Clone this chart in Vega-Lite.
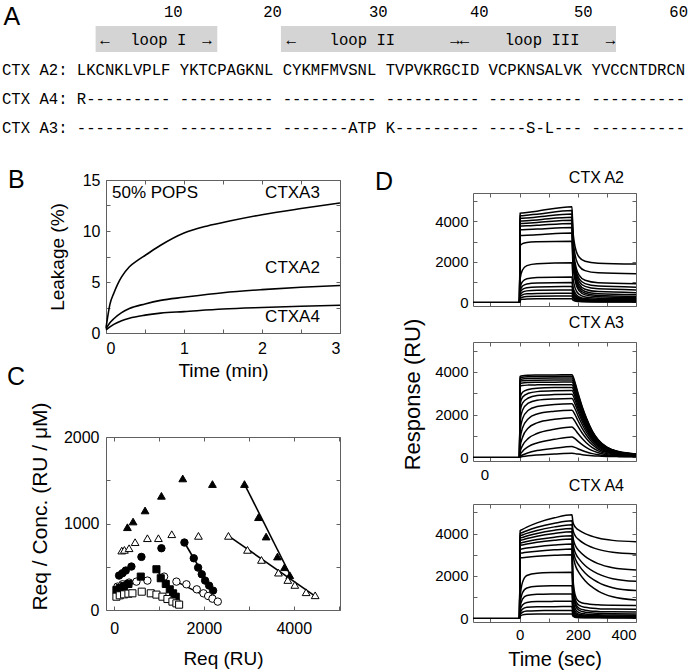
{
"$schema":"https://vega.github.io/schema/vega-lite/v6.json",
"background":"white",
"padding":{"left":2,"top":0,"right":0,"bottom":0},
"bounds":"flush",
"spacing":0,
"config":{
 "view":{"stroke":"#606060","strokeWidth":1},
 "axis":{"domain":false,"grid":false,"ticks":true,"tickSize":-4,"tickColor":"#606060","tickWidth":1,"labelFont":"Liberation Sans","labelFontSize":15,"labelColor":"#000000","titleFont":"Liberation Sans","titleFontSize":19,"titleFontWeight":"normal","titleColor":"#000000"}
},
"datasets":{
 "loops":[{"c1":10,"c2":23},{"c1":29.8,"c2":65.6}],
 "atext":[{"col":18.3,"row":0,"t":"10"},{"col":28.9,"row":0,"t":"20"},{"col":40.2,"row":0,"t":"30"},{"col":51.0,"row":0,"t":"40"},{"col":62.1,"row":0,"t":"50"},{"col":72.3,"row":0,"t":"60"},
  {"col":11.0,"row":0.95,"t":"←"},{"col":16.7,"row":0.95,"t":"loop I"},{"col":21.9,"row":0.95,"t":"→"},{"col":30.9,"row":0.95,"t":"←"},{"col":38.5,"row":0.95,"t":"loop II"},{"col":48.9,"row":0.95,"t":"→←"},{"col":57.7,"row":0.95,"t":"loop III"},{"col":65.0,"row":0.95,"t":"→"}],
 "seq":[{"col":0,"row":2,"t":"CTX A2: LKCNKLVPLF YKTCPAGKNL CYKMFMVSNL TVPVKRGCID VCPKNSALVK YVCCNTDRCN"},
  {"col":0,"row":3,"t":"CTX A4: R--------- ---------- ---------- ---------- ---------- ----------"},
  {"col":0,"row":4,"t":"CTX A3: ---------- ---------- -------ATP K--------- ----S-L--- ----------"}],
 "leak":[
  {"s":"A3","t":0,"v":0.5},{"s":"A3","t":0.02,"v":1.5},{"s":"A3","t":0.05,"v":2.8},{"s":"A3","t":0.1,"v":3.9},{"s":"A3","t":0.15,"v":4.8},{"s":"A3","t":0.2,"v":5.5},{"s":"A3","t":0.3,"v":6.5},{"s":"A3","t":0.4,"v":7.1},{"s":"A3","t":0.5,"v":7.6},{"s":"A3","t":0.7,"v":8.6},{"s":"A3","t":1.0,"v":9.8},{"s":"A3","t":1.3,"v":10.5},{"s":"A3","t":1.6,"v":11.0},{"s":"A3","t":2.0,"v":11.6},{"s":"A3","t":2.5,"v":12.2},{"s":"A3","t":3.0,"v":12.75},
  {"s":"A2","t":0,"v":0.4},{"s":"A2","t":0.05,"v":1.0},{"s":"A2","t":0.1,"v":1.4},{"s":"A2","t":0.2,"v":2.0},{"s":"A2","t":0.3,"v":2.4},{"s":"A2","t":0.5,"v":2.85},{"s":"A2","t":0.7,"v":3.2},{"s":"A2","t":1.0,"v":3.5},{"s":"A2","t":1.5,"v":3.95},{"s":"A2","t":2.0,"v":4.25},{"s":"A2","t":2.5,"v":4.48},{"s":"A2","t":3.0,"v":4.65},
  {"s":"A4","t":0,"v":0.3},{"s":"A4","t":0.05,"v":0.6},{"s":"A4","t":0.1,"v":0.85},{"s":"A4","t":0.2,"v":1.2},{"s":"A4","t":0.3,"v":1.45},{"s":"A4","t":0.5,"v":1.75},{"s":"A4","t":0.7,"v":1.95},{"s":"A4","t":1.0,"v":2.1},{"s":"A4","t":1.5,"v":2.35},{"s":"A4","t":2.0,"v":2.5},{"s":"A4","t":2.5,"v":2.62},{"s":"A4","t":3.0,"v":2.72}],
 "leaklab":[{"t":0.077,"v":13.73,"label":"50% POPS"},{"t":2.04,"v":13.73,"label":"CTXA3"},{"t":2.04,"v":6.37,"label":"CTXA2"},{"t":2.04,"v":1.57,"label":"CTXA4"}],
 "scat":[
  {"m":"tri","f":"y","x":297,"y":957},{"m":"tri","f":"y","x":423,"y":1023},{"m":"tri","f":"y","x":690,"y":1151},{"m":"tri","f":"y","x":1054,"y":1320},{"m":"tri","f":"y","x":1529,"y":1521},{"m":"tri","f":"y","x":2190,"y":1456},{"m":"tri","f":"y","x":2903,"y":1456},{"m":"tri","f":"y","x":3215,"y":1073},{"m":"tri","f":"y","x":3385,"y":849},{"m":"tri","f":"y","x":3638,"y":618},{"m":"tri","f":"y","x":3794,"y":494},{"m":"tri","f":"y","x":3912,"y":402},
  {"m":"tri","f":"n","x":171,"y":687},{"m":"tri","f":"n","x":230,"y":695},{"m":"tri","f":"n","x":334,"y":714},{"m":"tri","f":"n","x":468,"y":784},{"m":"tri","f":"n","x":742,"y":830},{"m":"tri","f":"n","x":987,"y":830},{"m":"tri","f":"n","x":1284,"y":876},{"m":"tri","f":"n","x":1878,"y":857},{"m":"tri","f":"n","x":2546,"y":857},{"m":"tri","f":"n","x":2970,"y":695},{"m":"tri","f":"n","x":3281,"y":579},{"m":"tri","f":"n","x":3660,"y":432},{"m":"tri","f":"n","x":3868,"y":347},{"m":"tri","f":"n","x":4024,"y":290},{"m":"tri","f":"n","x":4276,"y":205},{"m":"tri","f":"n","x":4477,"y":170},
  {"m":"circ","f":"y","x":111,"y":398},{"m":"circ","f":"y","x":186,"y":425},{"m":"circ","f":"y","x":260,"y":456},{"m":"circ","f":"y","x":386,"y":502},{"m":"circ","f":"y","x":609,"y":614},{"m":"circ","f":"y","x":1054,"y":714},{"m":"circ","f":"y","x":1566,"y":780},{"m":"circ","f":"y","x":1774,"y":598},{"m":"circ","f":"y","x":1871,"y":490},{"m":"circ","f":"y","x":1952,"y":413},{"m":"circ","f":"y","x":2027,"y":340},{"m":"circ","f":"y","x":2116,"y":282},{"m":"circ","f":"y","x":2205,"y":224},
  {"m":"circ","f":"n","x":74,"y":270},{"m":"circ","f":"n","x":186,"y":297},{"m":"circ","f":"n","x":334,"y":317},{"m":"circ","f":"n","x":497,"y":328},{"m":"circ","f":"n","x":742,"y":340},{"m":"circ","f":"n","x":1114,"y":386},{"m":"circ","f":"n","x":1388,"y":328},{"m":"circ","f":"n","x":1611,"y":297},{"m":"circ","f":"n","x":1841,"y":239},{"m":"circ","f":"n","x":1990,"y":193},{"m":"circ","f":"n","x":2094,"y":162},{"m":"circ","f":"n","x":2190,"y":131},{"m":"circ","f":"n","x":2309,"y":97},
  {"m":"sq","f":"y","x":52,"y":232},{"m":"sq","f":"y","x":126,"y":255},{"m":"sq","f":"y","x":223,"y":278},{"m":"sq","f":"y","x":319,"y":301},{"m":"sq","f":"y","x":594,"y":386},{"m":"sq","f":"y","x":943,"y":471},{"m":"sq","f":"y","x":1039,"y":367},{"m":"sq","f":"y","x":1151,"y":301},{"m":"sq","f":"y","x":1240,"y":239},{"m":"sq","f":"y","x":1314,"y":193},{"m":"sq","f":"y","x":1373,"y":154},
  {"m":"sq","f":"n","x":52,"y":154},{"m":"sq","f":"n","x":126,"y":170},{"m":"sq","f":"n","x":223,"y":181},{"m":"sq","f":"n","x":319,"y":189},{"m":"sq","f":"n","x":408,"y":193},{"m":"sq","f":"n","x":616,"y":212},{"m":"sq","f":"n","x":817,"y":193},{"m":"sq","f":"n","x":943,"y":178},{"m":"sq","f":"n","x":1076,"y":154},{"m":"sq","f":"n","x":1188,"y":127},{"m":"sq","f":"n","x":1299,"y":97},{"m":"sq","f":"n","x":1388,"y":77},{"m":"sq","f":"n","x":1448,"y":62}],
 "fits":[{"s":"tri","x":2903,"y":1456},{"s":"tri","x":3957,"y":367},{"s":"otri","x":2546,"y":857},{"s":"otri","x":4492,"y":154},{"s":"circ","x":1566,"y":780},{"s":"circ","x":2212,"y":212},{"s":"ocirc","x":1388,"y":328},{"s":"ocirc","x":2324,"y":85},{"s":"sq","x":943,"y":471},{"s":"sq","x":1396,"y":135},{"s":"osq","x":817,"y":193},{"s":"osq","x":1448,"y":58}],
 "d1":[
  {"c":0,"t":-160,"r":0},{"c":0,"t":0,"r":0},
  {"c":1,"t":0,"r":0},{"c":1,"t":2,"r":4400},{"c":1,"t":10,"r":4414},{"c":1,"t":25,"r":4441},{"c":1,"t":60,"r":4504},{"c":1,"t":180,"r":4720},{"c":1,"t":183,"r":3645},{"c":1,"t":188,"r":2965},{"c":1,"t":195,"r":2513},{"c":1,"t":205,"r":2230},{"c":1,"t":225,"r":2032},{"c":1,"t":270,"r":1932},{"c":1,"t":400,"r":1890},
  {"c":2,"t":0,"r":0},{"c":2,"t":2,"r":4270},{"c":2,"t":10,"r":4282},{"c":2,"t":25,"r":4304},{"c":2,"t":60,"r":4355},{"c":2,"t":180,"r":4530},{"c":2,"t":183,"r":3344},{"c":2,"t":188,"r":2596},{"c":2,"t":195,"r":2096},{"c":2,"t":205,"r":1784},{"c":2,"t":225,"r":1566},{"c":2,"t":270,"r":1457},{"c":2,"t":400,"r":1410},
  {"c":3,"t":0,"r":0},{"c":3,"t":2,"r":4140},{"c":3,"t":10,"r":4150},{"c":3,"t":25,"r":4168},{"c":3,"t":60,"r":4212},{"c":3,"t":180,"r":4360},{"c":3,"t":183,"r":3053},{"c":3,"t":188,"r":2227},{"c":3,"t":195,"r":1677},{"c":3,"t":205,"r":1333},{"c":3,"t":225,"r":1092},{"c":3,"t":270,"r":972},{"c":3,"t":400,"r":920},
  {"c":4,"t":0,"r":0},{"c":4,"t":2,"r":4010},{"c":4,"t":10,"r":4019},{"c":4,"t":25,"r":4035},{"c":4,"t":60,"r":4072},{"c":4,"t":180,"r":4200},{"c":4,"t":183,"r":2889},{"c":4,"t":188,"r":2061},{"c":4,"t":195,"r":1509},{"c":4,"t":205,"r":1164},{"c":4,"t":225,"r":923},{"c":4,"t":270,"r":802},{"c":4,"t":400,"r":750},
  {"c":5,"t":0,"r":0},{"c":5,"t":2,"r":3890},{"c":5,"t":10,"r":3898},{"c":5,"t":25,"r":3912},{"c":5,"t":60,"r":3945},{"c":5,"t":180,"r":4060},{"c":5,"t":183,"r":2751},{"c":5,"t":188,"r":1924},{"c":5,"t":195,"r":1373},{"c":5,"t":205,"r":1028},{"c":5,"t":225,"r":787},{"c":5,"t":270,"r":667},{"c":5,"t":400,"r":615},
  {"c":6,"t":0,"r":0},{"c":6,"t":2,"r":3760},{"c":6,"t":10,"r":3766},{"c":6,"t":25,"r":3778},{"c":6,"t":60,"r":3806},{"c":6,"t":180,"r":3900},{"c":6,"t":183,"r":2600},{"c":6,"t":188,"r":1780},{"c":6,"t":195,"r":1232},{"c":6,"t":205,"r":890},{"c":6,"t":225,"r":651},{"c":6,"t":270,"r":531},{"c":6,"t":400,"r":480},
  {"c":7,"t":0,"r":0},{"c":7,"t":2,"r":3580},{"c":7,"t":10,"r":3585},{"c":7,"t":25,"r":3595},{"c":7,"t":60,"r":3619},{"c":7,"t":180,"r":3700},{"c":7,"t":183,"r":2435},{"c":7,"t":188,"r":1635},{"c":7,"t":195,"r":1103},{"c":7,"t":205,"r":770},{"c":7,"t":225,"r":537},{"c":7,"t":270,"r":420},{"c":7,"t":400,"r":370},
  {"c":8,"t":0,"r":0},{"c":8,"t":2,"r":3300},{"c":8,"t":10,"r":3305},{"c":8,"t":25,"r":3315},{"c":8,"t":60,"r":3339},{"c":8,"t":180,"r":3420},{"c":8,"t":183,"r":2231},{"c":8,"t":188,"r":1479},{"c":8,"t":195,"r":979},{"c":8,"t":205,"r":666},{"c":8,"t":225,"r":447},{"c":8,"t":270,"r":337},{"c":8,"t":400,"r":290},
  {"c":9,"t":0,"r":0},{"c":9,"t":2,"r":2800},{"c":9,"t":10,"r":2900},{"c":9,"t":25,"r":2960},{"c":9,"t":60,"r":2990},{"c":9,"t":180,"r":3020},{"c":9,"t":183,"r":1960},{"c":9,"t":188,"r":1290},{"c":9,"t":195,"r":844},{"c":9,"t":205,"r":565},{"c":9,"t":225,"r":370},{"c":9,"t":270,"r":272},{"c":9,"t":400,"r":230},
  {"c":10,"t":0,"r":0},{"c":10,"t":2,"r":1170},{"c":10,"t":10,"r":1599},{"c":10,"t":25,"r":1814},{"c":10,"t":60,"r":1911},{"c":10,"t":180,"r":1950},{"c":10,"t":183,"r":1277},{"c":10,"t":188,"r":853},{"c":10,"t":195,"r":569},{"c":10,"t":205,"r":392},{"c":10,"t":225,"r":269},{"c":10,"t":270,"r":207},{"c":10,"t":400,"r":180},
  {"c":11,"t":0,"r":0},{"c":11,"t":2,"r":750},{"c":11,"t":10,"r":1025},{"c":11,"t":25,"r":1163},{"c":11,"t":60,"r":1225},{"c":11,"t":180,"r":1250},{"c":11,"t":183,"r":824},{"c":11,"t":188,"r":556},{"c":11,"t":195,"r":376},{"c":11,"t":205,"r":264},{"c":11,"t":225,"r":186},{"c":11,"t":270,"r":147},{"c":11,"t":400,"r":130},
  {"c":12,"t":0,"r":0},{"c":12,"t":2,"r":588},{"c":12,"t":10,"r":804},{"c":12,"t":25,"r":911},{"c":12,"t":60,"r":960},{"c":12,"t":180,"r":980},{"c":12,"t":183,"r":646},{"c":12,"t":188,"r":434},{"c":12,"t":195,"r":294},{"c":12,"t":205,"r":206},{"c":12,"t":225,"r":144},{"c":12,"t":270,"r":113},{"c":12,"t":400,"r":100},
  {"c":13,"t":0,"r":0},{"c":13,"t":2,"r":468},{"c":13,"t":10,"r":640},{"c":13,"t":25,"r":725},{"c":13,"t":60,"r":764},{"c":13,"t":180,"r":780},{"c":13,"t":183,"r":514},{"c":13,"t":188,"r":346},{"c":13,"t":195,"r":234},{"c":13,"t":205,"r":164},{"c":13,"t":225,"r":115},{"c":13,"t":270,"r":91},{"c":13,"t":400,"r":80},
  {"c":14,"t":0,"r":0},{"c":14,"t":2,"r":366},{"c":14,"t":10,"r":500},{"c":14,"t":25,"r":567},{"c":14,"t":60,"r":598},{"c":14,"t":180,"r":610},{"c":14,"t":183,"r":401},{"c":14,"t":188,"r":269},{"c":14,"t":195,"r":181},{"c":14,"t":205,"r":126},{"c":14,"t":225,"r":88},{"c":14,"t":270,"r":68},{"c":14,"t":400,"r":60},
  {"c":15,"t":0,"r":0},{"c":15,"t":2,"r":270},{"c":15,"t":10,"r":369},{"c":15,"t":25,"r":419},{"c":15,"t":60,"r":441},{"c":15,"t":180,"r":450},{"c":15,"t":183,"r":296},{"c":15,"t":188,"r":199},{"c":15,"t":195,"r":134},{"c":15,"t":205,"r":94},{"c":15,"t":225,"r":65},{"c":15,"t":270,"r":51},{"c":15,"t":400,"r":45},
  {"c":16,"t":0,"r":0},{"c":16,"t":2,"r":186},{"c":16,"t":10,"r":254},{"c":16,"t":25,"r":288},{"c":16,"t":60,"r":304},{"c":16,"t":180,"r":310},{"c":16,"t":183,"r":204},{"c":16,"t":188,"r":136},{"c":16,"t":195,"r":92},{"c":16,"t":205,"r":64},{"c":16,"t":225,"r":44},{"c":16,"t":270,"r":34},{"c":16,"t":400,"r":30},
  {"c":17,"t":0,"r":0},{"c":17,"t":2,"r":108},{"c":17,"t":10,"r":148},{"c":17,"t":25,"r":167},{"c":17,"t":60,"r":176},{"c":17,"t":180,"r":180},{"c":17,"t":183,"r":119},{"c":17,"t":188,"r":81},{"c":17,"t":195,"r":55},{"c":17,"t":205,"r":39},{"c":17,"t":225,"r":28},{"c":17,"t":270,"r":22},{"c":17,"t":400,"r":20}],
 "d2":[
  {"c":0,"t":-160,"r":0},{"c":0,"t":0,"r":0},
  {"c":1,"t":0,"r":0},{"c":1,"t":2,"r":3790},{"c":1,"t":10,"r":3820},{"c":1,"t":30,"r":3840},{"c":1,"t":60,"r":3850},{"c":1,"t":120,"r":3857},{"c":1,"t":180,"r":3860},{"c":1,"t":190,"r":3526},{"c":1,"t":200,"r":3044},{"c":1,"t":215,"r":2376},{"c":1,"t":230,"r":1820},{"c":1,"t":250,"r":1226},{"c":1,"t":270,"r":818},{"c":1,"t":300,"r":465},{"c":1,"t":340,"r":261},{"c":1,"t":400,"r":150},
  {"c":2,"t":0,"r":0},{"c":2,"t":2,"r":3720},{"c":2,"t":10,"r":3750},{"c":2,"t":30,"r":3770},{"c":2,"t":60,"r":3780},{"c":2,"t":120,"r":3787},{"c":2,"t":180,"r":3790},{"c":2,"t":190,"r":3462},{"c":2,"t":200,"r":2988},{"c":2,"t":215,"r":2332},{"c":2,"t":230,"r":1785},{"c":2,"t":250,"r":1202},{"c":2,"t":270,"r":801},{"c":2,"t":300,"r":455},{"c":2,"t":340,"r":254},{"c":2,"t":400,"r":145},
  {"c":3,"t":0,"r":0},{"c":3,"t":2,"r":3640},{"c":3,"t":10,"r":3670},{"c":3,"t":30,"r":3690},{"c":3,"t":60,"r":3700},{"c":3,"t":120,"r":3707},{"c":3,"t":180,"r":3710},{"c":3,"t":190,"r":3389},{"c":3,"t":200,"r":2925},{"c":3,"t":215,"r":2282},{"c":3,"t":230,"r":1747},{"c":3,"t":250,"r":1175},{"c":3,"t":270,"r":783},{"c":3,"t":300,"r":443},{"c":3,"t":340,"r":247},{"c":3,"t":400,"r":140},
  {"c":4,"t":0,"r":0},{"c":4,"t":2,"r":3550},{"c":4,"t":10,"r":3580},{"c":4,"t":30,"r":3600},{"c":4,"t":60,"r":3610},{"c":4,"t":120,"r":3617},{"c":4,"t":180,"r":3620},{"c":4,"t":190,"r":3306},{"c":4,"t":200,"r":2853},{"c":4,"t":215,"r":2226},{"c":4,"t":230,"r":1703},{"c":4,"t":250,"r":1146},{"c":4,"t":270,"r":762},{"c":4,"t":300,"r":431},{"c":4,"t":340,"r":240},{"c":4,"t":400,"r":135},
  {"c":5,"t":0,"r":0},{"c":5,"t":2,"r":3450},{"c":5,"t":10,"r":3480},{"c":5,"t":30,"r":3500},{"c":5,"t":60,"r":3510},{"c":5,"t":120,"r":3517},{"c":5,"t":180,"r":3520},{"c":5,"t":190,"r":3215},{"c":5,"t":200,"r":2774},{"c":5,"t":215,"r":2164},{"c":5,"t":230,"r":1656},{"c":5,"t":250,"r":1113},{"c":5,"t":270,"r":740},{"c":5,"t":300,"r":418},{"c":5,"t":340,"r":232},{"c":5,"t":400,"r":130},
  {"c":6,"t":0,"r":0},{"c":6,"t":2,"r":3330},{"c":6,"t":10,"r":3360},{"c":6,"t":30,"r":3380},{"c":6,"t":60,"r":3390},{"c":6,"t":120,"r":3397},{"c":6,"t":180,"r":3400},{"c":6,"t":190,"r":3105},{"c":6,"t":200,"r":2678},{"c":6,"t":215,"r":2088},{"c":6,"t":230,"r":1596},{"c":6,"t":250,"r":1071},{"c":6,"t":270,"r":710},{"c":6,"t":300,"r":399},{"c":6,"t":340,"r":218},{"c":6,"t":400,"r":120},
  {"c":7,"t":0,"r":0},{"c":7,"t":2,"r":2780},{"c":7,"t":10,"r":3041},{"c":7,"t":30,"r":3172},{"c":7,"t":60,"r":3237},{"c":7,"t":120,"r":3265},{"c":7,"t":180,"r":3270},{"c":7,"t":190,"r":2986},{"c":7,"t":200,"r":2575},{"c":7,"t":215,"r":2006},{"c":7,"t":230,"r":1532},{"c":7,"t":250,"r":1026},{"c":7,"t":270,"r":679},{"c":7,"t":300,"r":379},{"c":7,"t":340,"r":205},{"c":7,"t":400,"r":110},
  {"c":8,"t":0,"r":0},{"c":8,"t":2,"r":2496},{"c":8,"t":10,"r":2808},{"c":8,"t":30,"r":2995},{"c":8,"t":60,"r":3073},{"c":8,"t":120,"r":3111},{"c":8,"t":180,"r":3120},{"c":8,"t":190,"r":2848},{"c":8,"t":200,"r":2456},{"c":8,"t":215,"r":1912},{"c":8,"t":230,"r":1459},{"c":8,"t":250,"r":976},{"c":8,"t":270,"r":644},{"c":8,"t":300,"r":357},{"c":8,"t":340,"r":191},{"c":8,"t":400,"r":100},
  {"c":9,"t":0,"r":0},{"c":9,"t":2,"r":2124},{"c":9,"t":10,"r":2537},{"c":9,"t":30,"r":2773},{"c":9,"t":60,"r":2891},{"c":9,"t":120,"r":2935},{"c":9,"t":180,"r":2950},{"c":9,"t":190,"r":2693},{"c":9,"t":200,"r":2322},{"c":9,"t":215,"r":1808},{"c":9,"t":230,"r":1380},{"c":9,"t":250,"r":923},{"c":9,"t":270,"r":609},{"c":9,"t":300,"r":338},{"c":9,"t":340,"r":181},{"c":9,"t":400,"r":95},
  {"c":10,"t":0,"r":0},{"c":10,"t":2,"r":1705},{"c":10,"t":10,"r":2200},{"c":10,"t":30,"r":2530},{"c":10,"t":60,"r":2668},{"c":10,"t":120,"r":2731},{"c":10,"t":180,"r":2750},{"c":10,"t":190,"r":2511},{"c":10,"t":200,"r":2165},{"c":10,"t":215,"r":1686},{"c":10,"t":230,"r":1287},{"c":10,"t":250,"r":861},{"c":10,"t":270,"r":569},{"c":10,"t":300,"r":316},{"c":10,"t":340,"r":170},{"c":10,"t":400,"r":90},
  {"c":11,"t":0,"r":0},{"c":11,"t":2,"r":1250},{"c":11,"t":10,"r":1800},{"c":11,"t":30,"r":2200},{"c":11,"t":60,"r":2375},{"c":11,"t":120,"r":2475},{"c":11,"t":180,"r":2500},{"c":11,"t":190,"r":2282},{"c":11,"t":200,"r":1968},{"c":11,"t":215,"r":1532},{"c":11,"t":230,"r":1169},{"c":11,"t":250,"r":782},{"c":11,"t":270,"r":516},{"c":11,"t":300,"r":286},{"c":11,"t":340,"r":153},{"c":11,"t":400,"r":80},
  {"c":12,"t":0,"r":0},{"c":12,"t":2,"r":836},{"c":12,"t":10,"r":1364},{"c":12,"t":30,"r":1804},{"c":12,"t":60,"r":2024},{"c":12,"t":120,"r":2156},{"c":12,"t":180,"r":2200},{"c":12,"t":190,"r":2008},{"c":12,"t":200,"r":1731},{"c":12,"t":215,"r":1348},{"c":12,"t":230,"r":1029},{"c":12,"t":250,"r":688},{"c":12,"t":270,"r":453},{"c":12,"t":300,"r":251},{"c":12,"t":340,"r":134},{"c":12,"t":400,"r":70},
  {"c":13,"t":0,"r":0},{"c":13,"t":2,"r":500},{"c":13,"t":10,"r":925},{"c":13,"t":30,"r":1369},{"c":13,"t":60,"r":1610},{"c":13,"t":120,"r":1776},{"c":13,"t":180,"r":1850},{"c":13,"t":190,"r":1689},{"c":13,"t":200,"r":1456},{"c":13,"t":215,"r":1134},{"c":13,"t":230,"r":866},{"c":13,"t":250,"r":579},{"c":13,"t":270,"r":382},{"c":13,"t":300,"r":212},{"c":13,"t":340,"r":114},{"c":13,"t":400,"r":60},
  {"c":14,"t":0,"r":0},{"c":14,"t":2,"r":256},{"c":14,"t":10,"r":540},{"c":14,"t":30,"r":880},{"c":14,"t":60,"r":1108},{"c":14,"t":120,"r":1306},{"c":14,"t":180,"r":1420},{"c":14,"t":190,"r":1297},{"c":14,"t":200,"r":1119},{"c":14,"t":215,"r":872},{"c":14,"t":230,"r":667},{"c":14,"t":250,"r":447},{"c":14,"t":270,"r":297},{"c":14,"t":300,"r":166},{"c":14,"t":340,"r":91},{"c":14,"t":400,"r":50},
  {"c":15,"t":0,"r":0},{"c":15,"t":2,"r":114},{"c":15,"t":10,"r":266},{"c":15,"t":30,"r":494},{"c":15,"t":60,"r":665},{"c":15,"t":120,"r":836},{"c":15,"t":180,"r":950},{"c":15,"t":190,"r":868},{"c":15,"t":200,"r":750},{"c":15,"t":215,"r":586},{"c":15,"t":230,"r":450},{"c":15,"t":250,"r":304},{"c":15,"t":270,"r":204},{"c":15,"t":300,"r":117},{"c":15,"t":340,"r":67},{"c":15,"t":400,"r":40},
  {"c":16,"t":0,"r":0},{"c":16,"t":2,"r":40},{"c":16,"t":10,"r":100},{"c":16,"t":30,"r":210},{"c":16,"t":60,"r":310},{"c":16,"t":120,"r":420},{"c":16,"t":180,"r":500},{"c":16,"t":190,"r":458},{"c":16,"t":200,"r":397},{"c":16,"t":215,"r":312},{"c":16,"t":230,"r":242},{"c":16,"t":250,"r":166},{"c":16,"t":270,"r":115},{"c":16,"t":300,"r":70},{"c":16,"t":340,"r":44},{"c":16,"t":400,"r":30},
  {"c":17,"t":0,"r":0},{"c":17,"t":2,"r":9},{"c":17,"t":10,"r":27},{"c":17,"t":30,"r":63},{"c":17,"t":60,"r":99},{"c":17,"t":120,"r":144},{"c":17,"t":180,"r":180},{"c":17,"t":190,"r":166},{"c":17,"t":200,"r":145},{"c":17,"t":215,"r":116},{"c":17,"t":230,"r":92},{"c":17,"t":250,"r":66},{"c":17,"t":270,"r":49},{"c":17,"t":300,"r":34},{"c":17,"t":340,"r":25},{"c":17,"t":400,"r":20}],
 "d3":[
  {"c":0,"t":-160,"r":0},{"c":0,"t":0,"r":0},
  {"c":1,"t":0,"r":0},{"c":1,"t":2,"r":4135},{"c":1,"t":10,"r":4198},{"c":1,"t":25,"r":4306},{"c":1,"t":60,"r":4509},{"c":1,"t":120,"r":4747},{"c":1,"t":180,"r":4890},{"c":1,"t":183,"r":4572},{"c":1,"t":188,"r":4380},{"c":1,"t":195,"r":4253},{"c":1,"t":205,"r":4151},{"c":1,"t":225,"r":3998},{"c":1,"t":270,"r":3794},{"c":1,"t":320,"r":3680},{"c":1,"t":400,"r":3616},
  {"c":2,"t":0,"r":0},{"c":2,"t":2,"r":4000},{"c":2,"t":10,"r":4050},{"c":2,"t":25,"r":4137},{"c":2,"t":60,"r":4300},{"c":2,"t":120,"r":4492},{"c":2,"t":180,"r":4607},{"c":2,"t":183,"r":4214},{"c":2,"t":188,"r":3978},{"c":2,"t":195,"r":3821},{"c":2,"t":205,"r":3695},{"c":2,"t":225,"r":3507},{"c":2,"t":270,"r":3255},{"c":2,"t":320,"r":3114},{"c":2,"t":400,"r":3035},
  {"c":3,"t":0,"r":0},{"c":3,"t":2,"r":3890},{"c":3,"t":10,"r":3934},{"c":3,"t":25,"r":4009},{"c":3,"t":60,"r":4151},{"c":3,"t":120,"r":4318},{"c":3,"t":180,"r":4418},{"c":3,"t":183,"r":3884},{"c":3,"t":188,"r":3563},{"c":3,"t":195,"r":3349},{"c":3,"t":205,"r":3178},{"c":3,"t":225,"r":2921},{"c":3,"t":270,"r":2579},{"c":3,"t":320,"r":2387},{"c":3,"t":400,"r":2280},
  {"c":4,"t":0,"r":0},{"c":4,"t":2,"r":3780},{"c":4,"t":10,"r":3819},{"c":4,"t":25,"r":3885},{"c":4,"t":60,"r":4010},{"c":4,"t":120,"r":4157},{"c":4,"t":180,"r":4245},{"c":4,"t":183,"r":3620},{"c":4,"t":188,"r":3245},{"c":4,"t":195,"r":2995},{"c":4,"t":205,"r":2795},{"c":4,"t":225,"r":2495},{"c":4,"t":270,"r":2095},{"c":4,"t":320,"r":1870},{"c":4,"t":400,"r":1745},
  {"c":5,"t":0,"r":0},{"c":5,"t":2,"r":3670},{"c":5,"t":10,"r":3705},{"c":5,"t":25,"r":3764},{"c":5,"t":60,"r":3877},{"c":5,"t":120,"r":4009},{"c":5,"t":180,"r":4088},{"c":5,"t":183,"r":3392},{"c":5,"t":188,"r":2975},{"c":5,"t":195,"r":2697},{"c":5,"t":205,"r":2474},{"c":5,"t":225,"r":2140},{"c":5,"t":270,"r":1695},{"c":5,"t":320,"r":1444},{"c":5,"t":400,"r":1305},
  {"c":6,"t":0,"r":0},{"c":6,"t":2,"r":3550},{"c":6,"t":10,"r":3579},{"c":6,"t":25,"r":3629},{"c":6,"t":60,"r":3723},{"c":6,"t":120,"r":3833},{"c":6,"t":180,"r":3899},{"c":6,"t":183,"r":3139},{"c":6,"t":188,"r":2683},{"c":6,"t":195,"r":2380},{"c":6,"t":205,"r":2136},{"c":6,"t":225,"r":1772},{"c":6,"t":270,"r":1285},{"c":6,"t":320,"r":1012},{"c":6,"t":400,"r":860},
  {"c":7,"t":0,"r":0},{"c":7,"t":2,"r":3440},{"c":7,"t":10,"r":3465},{"c":7,"t":25,"r":3508},{"c":7,"t":60,"r":3589},{"c":7,"t":120,"r":3685},{"c":7,"t":180,"r":3742},{"c":7,"t":183,"r":2014},{"c":7,"t":188,"r":1291},{"c":7,"t":195,"r":946},{"c":7,"t":205,"r":789},{"c":7,"t":225,"r":694},{"c":7,"t":270,"r":631},{"c":7,"t":320,"r":609},{"c":7,"t":400,"r":600},
  {"c":8,"t":0,"r":0},{"c":8,"t":2,"r":3260},{"c":8,"t":10,"r":3280},{"c":8,"t":25,"r":3316},{"c":8,"t":60,"r":3382},{"c":8,"t":120,"r":3459},{"c":8,"t":180,"r":3506},{"c":8,"t":183,"r":1809},{"c":8,"t":188,"r":1099},{"c":8,"t":195,"r":759},{"c":8,"t":205,"r":605},{"c":8,"t":225,"r":513},{"c":8,"t":270,"r":451},{"c":8,"t":320,"r":429},{"c":8,"t":400,"r":420},
  {"c":9,"t":0,"r":0},{"c":9,"t":2,"r":3070},{"c":9,"t":10,"r":3087},{"c":9,"t":25,"r":3115},{"c":9,"t":60,"r":3169},{"c":9,"t":120,"r":3232},{"c":9,"t":180,"r":3270},{"c":9,"t":183,"r":1631},{"c":9,"t":188,"r":946},{"c":9,"t":195,"r":618},{"c":9,"t":205,"r":469},{"c":9,"t":225,"r":379},{"c":9,"t":270,"r":320},{"c":9,"t":320,"r":299},{"c":9,"t":400,"r":290},
  {"c":10,"t":0,"r":0},{"c":10,"t":2,"r":2850},{"c":10,"t":10,"r":2863},{"c":10,"t":25,"r":2885},{"c":10,"t":60,"r":2926},{"c":10,"t":120,"r":2974},{"c":10,"t":180,"r":3003},{"c":10,"t":183,"r":1461},{"c":10,"t":188,"r":817},{"c":10,"t":195,"r":508},{"c":10,"t":205,"r":368},{"c":10,"t":225,"r":284},{"c":10,"t":270,"r":228},{"c":10,"t":320,"r":208},{"c":10,"t":400,"r":200},
  {"c":11,"t":0,"r":0},{"c":11,"t":2,"r":977},{"c":11,"t":10,"r":1693},{"c":11,"t":25,"r":2018},{"c":11,"t":60,"r":2127},{"c":11,"t":120,"r":2159},{"c":11,"t":180,"r":2170},{"c":11,"t":183,"r":1054},{"c":11,"t":188,"r":587},{"c":11,"t":195,"r":363},{"c":11,"t":205,"r":262},{"c":11,"t":225,"r":201},{"c":11,"t":270,"r":160},{"c":11,"t":320,"r":146},{"c":11,"t":400,"r":140},
  {"c":12,"t":0,"r":0},{"c":12,"t":2,"r":693},{"c":12,"t":10,"r":1201},{"c":12,"t":25,"r":1432},{"c":12,"t":60,"r":1509},{"c":12,"t":120,"r":1532},{"c":12,"t":180,"r":1540},{"c":12,"t":183,"r":748},{"c":12,"t":188,"r":417},{"c":12,"t":195,"r":258},{"c":12,"t":205,"r":186},{"c":12,"t":225,"r":143},{"c":12,"t":270,"r":114},{"c":12,"t":320,"r":104},{"c":12,"t":400,"r":100},
  {"c":13,"t":0,"r":0},{"c":13,"t":2,"r":518},{"c":13,"t":10,"r":897},{"c":13,"t":25,"r":1070},{"c":13,"t":60,"r":1127},{"c":13,"t":120,"r":1144},{"c":13,"t":180,"r":1150},{"c":13,"t":183,"r":556},{"c":13,"t":188,"r":308},{"c":13,"t":195,"r":189},{"c":13,"t":205,"r":135},{"c":13,"t":225,"r":102},{"c":13,"t":270,"r":81},{"c":13,"t":320,"r":73},{"c":13,"t":400,"r":70},
  {"c":14,"t":0,"r":0},{"c":14,"t":2,"r":360},{"c":14,"t":10,"r":624},{"c":14,"t":25,"r":744},{"c":14,"t":60,"r":784},{"c":14,"t":120,"r":796},{"c":14,"t":180,"r":800},{"c":14,"t":183,"r":388},{"c":14,"t":188,"r":215},{"c":14,"t":195,"r":133},{"c":14,"t":205,"r":95},{"c":14,"t":225,"r":73},{"c":14,"t":270,"r":58},{"c":14,"t":320,"r":52},{"c":14,"t":400,"r":50},
  {"c":15,"t":0,"r":0},{"c":15,"t":2,"r":248},{"c":15,"t":10,"r":429},{"c":15,"t":25,"r":512},{"c":15,"t":60,"r":539},{"c":15,"t":120,"r":547},{"c":15,"t":180,"r":550},{"c":15,"t":183,"r":267},{"c":15,"t":188,"r":148},{"c":15,"t":195,"r":92},{"c":15,"t":205,"r":66},{"c":15,"t":225,"r":50},{"c":15,"t":270,"r":40},{"c":15,"t":320,"r":37},{"c":15,"t":400,"r":35},
  {"c":16,"t":0,"r":0},{"c":16,"t":2,"r":163},{"c":16,"t":10,"r":282},{"c":16,"t":25,"r":337},{"c":16,"t":60,"r":355},{"c":16,"t":120,"r":360},{"c":16,"t":180,"r":362},{"c":16,"t":183,"r":177},{"c":16,"t":188,"r":99},{"c":16,"t":195,"r":62},{"c":16,"t":205,"r":45},{"c":16,"t":225,"r":35},{"c":16,"t":270,"r":28},{"c":16,"t":320,"r":26},{"c":16,"t":400,"r":25},
  {"c":17,"t":0,"r":0},{"c":17,"t":2,"r":90},{"c":17,"t":10,"r":156},{"c":17,"t":25,"r":186},{"c":17,"t":60,"r":196},{"c":17,"t":120,"r":199},{"c":17,"t":180,"r":200},{"c":17,"t":183,"r":98},{"c":17,"t":188,"r":56},{"c":17,"t":195,"r":35},{"c":17,"t":205,"r":26},{"c":17,"t":225,"r":21},{"c":17,"t":270,"r":17},{"c":17,"t":320,"r":16},{"c":17,"t":400,"r":15}]
},
"vconcat":[
 {
  "width":587,"height":180,"view":{"stroke":null},
  "layer":[
   {"data":{"name":"loops"},"mark":{"type":"rect","color":"#d4d4d4"},
    "encoding":{"x":{"field":"c1","type":"quantitative","scale":{"domain":[11.111,73.825],"nice":false,"zero":false},"axis":null},"x2":{"field":"c2"},
     "y":{"datum":0.48,"type":"quantitative","scale":{"domain":[-0.4138,5.7931],"nice":false,"zero":false,"reverse":true},"axis":null},"y2":{"datum":1.38}}},
   {"data":{"name":"atext"},"mark":{"type":"text","font":"Liberation Mono","fontSize":15.6,"align":"center","baseline":"middle","color":"#000000"},
    "encoding":{"x":{"field":"col","type":"quantitative","scale":{"domain":[11.111,73.825],"nice":false,"zero":false},"axis":null},
     "y":{"field":"row","type":"quantitative","scale":{"domain":[-0.4138,5.7931],"nice":false,"zero":false,"reverse":true},"axis":null},"text":{"field":"t"}}},
   {"data":{"name":"seq"},"mark":{"type":"text","font":"Liberation Mono","fontSize":15.6,"align":"left","baseline":"middle","color":"#000000"},
    "encoding":{"x":{"field":"col","type":"quantitative","scale":{"domain":[11.111,73.825],"nice":false,"zero":false},"axis":null},
     "y":{"field":"row","type":"quantitative","scale":{"domain":[-0.4138,5.7931],"nice":false,"zero":false,"reverse":true},"axis":null},"text":{"field":"t"}}},
   {"data":{"values":[{"col":0.15,"row":0.17,"t":"A"}]},"mark":{"type":"text","font":"Liberation Sans","fontSize":25,"align":"left","baseline":"middle","color":"#000000"},
    "encoding":{"x":{"field":"col","type":"quantitative","scale":{"domain":[11.111,73.825],"nice":false,"zero":false},"axis":null},
     "y":{"field":"row","type":"quantitative","scale":{"domain":[-0.4138,5.7931],"nice":false,"zero":false,"reverse":true},"axis":null},"text":{"field":"t"}}}
  ]
 },
 {
  "hconcat":[
   {
    "vconcat":[
     {
      "width":234,"height":153,
      "layer":[
       {"data":{"name":"leak"},"mark":{"type":"line","color":"#000000","strokeWidth":1.6,"interpolate":"monotone"},
        "encoding":{
         "x":{"field":"t","type":"quantitative","scale":{"domain":[0,3],"nice":false},"axis":{"orient":"bottom","values":[0,0.5,1,1.5,2,2.5,3],"labelExpr":"datum.value % 1 == 0 ? format(datum.value, 'd') : ''","labelFontSize":16,"labelPadding":11,"title":"Time (min)","titlePadding":5}},
         "y":{"field":"v","type":"quantitative","scale":{"domain":[0,15],"nice":false},"axis":{"orient":"left","values":[0,2.5,5,7.5,10,12.5,15],"labelExpr":"datum.value % 5 == 0 ? format(datum.value, 'd') : ''","labelFontSize":16,"labelPadding":10,"title":"Leakage (%)","titlePadding":15}},
         "detail":{"field":"s"}}},
       {"data":{"name":"leaklab"},"mark":{"type":"text","font":"Liberation Sans","fontSize":17,"align":"left","baseline":"middle","color":"#000000"},
        "encoding":{
         "x":{"field":"t","type":"quantitative","scale":{"domain":[0,3],"nice":false},"axis":{"orient":"top","values":[0,0.5,1,1.5,2,2.5,3],"labels":false,"title":null}},
         "y":{"field":"v","type":"quantitative","scale":{"domain":[0,15],"nice":false},"axis":{"orient":"right","values":[0,2.5,5,7.5,10,12.5,15],"labels":false,"title":null}},
         "text":{"field":"label"}}},
       {"data":{"values":[{"t":-1.256,"v":15,"label":"B"}]},"mark":{"type":"text","font":"Liberation Sans","fontSize":25,"align":"left","baseline":"middle","color":"#000000"},
        "encoding":{
         "x":{"field":"t","type":"quantitative","scale":{"domain":[0,3],"nice":false},"axis":null},
         "y":{"field":"v","type":"quantitative","scale":{"domain":[0,15],"nice":false},"axis":null},
         "text":{"field":"label"}}}
      ],
      "resolve":{"axis":{"x":"independent","y":"independent"}}
     },
     {
      "width":234,"height":173,
      "layer":[
       {"data":{"name":"fits"},"mark":{"type":"line","color":"#000000","strokeWidth":1.6},
        "encoding":{
         "x":{"field":"x","type":"quantitative","scale":{"domain":[-180,5030],"nice":false,"zero":false},"axis":{"orient":"bottom","values":[0,1000,2000,3000,4000,5000],"format":"d","labelExpr":"datum.value % 2000 == 0 ? datum.label : ''","labelFontSize":16,"labelPadding":14,"title":"Req (RU)","titlePadding":13}},
         "y":{"field":"y","type":"quantitative","scale":{"domain":[0,2000],"nice":false},"axis":{"orient":"left","values":[0,500,1000,1500,2000],"format":"d","labelExpr":"datum.value % 1000 == 0 ? datum.label : ''","labelFontSize":16,"labelPadding":11,"title":"Req  / Conc. (RU / μM)","titleFontSize":21,"titleY":69,"titlePadding":13}},
         "detail":{"field":"s"}}},
       {"data":{"name":"scat"},"mark":{"type":"point","filled":true,"stroke":"#000000","strokeWidth":1,"opacity":1},
        "encoding":{
         "x":{"field":"x","type":"quantitative","scale":{"domain":[-180,5030],"nice":false,"zero":false},"axis":{"orient":"top","values":[0,1000,2000,3000,4000,5000],"labels":false,"title":null}},
         "y":{"field":"y","type":"quantitative","scale":{"domain":[0,2000],"nice":false},"axis":{"orient":"right","values":[0,500,1000,1500,2000],"labels":false,"title":null}},
         "shape":{"field":"m","type":"nominal","scale":{"domain":["tri","circ","sq"],"range":["triangle-up","circle","square"]},"legend":null},
         "fill":{"field":"f","type":"nominal","scale":{"domain":["y","n"],"range":["#000000","#ffffff"]},"legend":null},
         "size":{"field":"m","type":"nominal","scale":{"domain":["tri","circ","sq"],"range":[60,50,45]},"legend":null}}},
       {"data":{"values":[{"x":-2384,"y":2694,"label":"C"}]},"mark":{"type":"text","font":"Liberation Sans","fontSize":25,"align":"left","baseline":"middle","color":"#000000"},
        "encoding":{
         "x":{"field":"x","type":"quantitative","scale":{"domain":[-180,5030],"nice":false,"zero":false},"axis":null},
         "y":{"field":"y","type":"quantitative","scale":{"domain":[0,2000],"nice":false},"axis":null},
         "text":{"field":"label"}}}
      ],
      "resolve":{"axis":{"x":"independent","y":"independent"}}
     }
    ],
    "bounds":"flush","spacing":104
   },
   {
    "vconcat":[
     {"width":163,"height":13,"view":{"stroke":null},"data":{"values":[]},"mark":"point","encoding":{}},
     {
      "vconcat":[
       {
        "width":163,"height":113,
        "layer":[
         {"data":{"name":"d1"},"mark":{"type":"line","color":"#000000","strokeWidth":1.5,"interpolate":"monotone"},
          "encoding":{
           "x":{"field":"t","type":"quantitative","scale":{"domain":[-160,400],"nice":false,"zero":false},"axis":{"orient":"bottom","values":[-100,0,100,200,300,400],"labels":false,"title":null}},
           "y":{"field":"r","type":"quantitative","scale":{"domain":[-180,5400],"nice":false,"zero":false},"axis":{"orient":"left","values":[0,1000,2000,3000,4000,5000],"format":"d","labelExpr":"datum.value % 2000 == 0 ? datum.label : ''","labelPadding":9,"title":null}},
           "detail":{"field":"c"}}},
         {"data":{"values":[{"t":358.8,"r":6141,"label":"CTX A2"}]},"mark":{"type":"text","font":"Liberation Sans","fontSize":16,"align":"right","baseline":"middle","color":"#000000"},
          "encoding":{
           "x":{"field":"t","type":"quantitative","scale":{"domain":[-160,400],"nice":false,"zero":false},"axis":{"orient":"top","values":[-100,0,100,200,300,400],"labels":false,"title":null}},
           "y":{"field":"r","type":"quantitative","scale":{"domain":[-180,5400],"nice":false,"zero":false},"axis":{"orient":"right","values":[0,1000,2000,3000,4000,5000],"labels":false,"title":null}},
           "text":{"field":"label"}}},
         {"data":{"values":[{"t":-497,"r":5943,"label":"D"}]},"mark":{"type":"text","font":"Liberation Sans","fontSize":25,"align":"left","baseline":"middle","color":"#000000"},
          "encoding":{
           "x":{"field":"t","type":"quantitative","scale":{"domain":[-160,400],"nice":false,"zero":false},"axis":null},
           "y":{"field":"r","type":"quantitative","scale":{"domain":[-180,5400],"nice":false,"zero":false},"axis":null},
           "text":{"field":"label"}}}
        ],
        "resolve":{"axis":{"x":"independent","y":"independent"}}
       },
       {
        "vconcat":[
         {
          "width":163,"height":119,
          "layer":[
           {"data":{"name":"d2"},"mark":{"type":"line","color":"#000000","strokeWidth":1.5,"interpolate":"monotone"},
            "encoding":{
             "x":{"field":"t","type":"quantitative","scale":{"domain":[-160,400],"nice":false,"zero":false},"axis":{"orient":"bottom","values":[-100,0,100,200,300,400],"labels":false,"title":null}},
             "y":{"field":"r","type":"quantitative","scale":{"domain":[-180,5400],"nice":false,"zero":false},"axis":{"orient":"left","values":[0,1000,2000,3000,4000,5000],"format":"d","labelExpr":"datum.value % 2000 == 0 ? datum.label : ''","labelPadding":9,"title":"Response (RU)","titleFontSize":22,"titleY":52,"titlePadding":10}},
             "detail":{"field":"c"}}},
           {"data":{"values":[{"t":358.8,"r":6291,"label":"CTX A3"}]},"mark":{"type":"text","font":"Liberation Sans","fontSize":16,"align":"right","baseline":"middle","color":"#000000"},
            "encoding":{
             "x":{"field":"t","type":"quantitative","scale":{"domain":[-160,400],"nice":false,"zero":false},"axis":{"orient":"top","values":[-100,0,100,200,300,400],"labels":false,"title":null}},
             "y":{"field":"r","type":"quantitative","scale":{"domain":[-180,5400],"nice":false,"zero":false},"axis":{"orient":"right","values":[0,1000,2000,3000,4000,5000],"labels":false,"title":null}},
             "text":{"field":"label"}}},
           {"data":{"values":[{"t":-119,"r":-835,"label":"0"}]},"mark":{"type":"text","font":"Liberation Sans","fontSize":15,"align":"center","baseline":"middle","color":"#000000"},
            "encoding":{
             "x":{"field":"t","type":"quantitative","scale":{"domain":[-160,400],"nice":false,"zero":false},"axis":null},
             "y":{"field":"r","type":"quantitative","scale":{"domain":[-180,5400],"nice":false,"zero":false},"axis":null},
             "text":{"field":"label"}}}
          ],
          "resolve":{"axis":{"x":"independent","y":"independent"}}
         },
         {
          "width":163,"height":118,
          "layer":[
           {"data":{"name":"d3"},"mark":{"type":"line","color":"#000000","strokeWidth":1.5,"interpolate":"monotone"},
            "encoding":{
             "x":{"field":"t","type":"quantitative","scale":{"domain":[-160,400],"nice":false,"zero":false},"axis":{"orient":"bottom","values":[-100,0,100,200,300,400],"format":"d","labelExpr":"datum.value % 200 == 0 ? datum.label : ''","labelPadding":9,"title":"Time (sec)","titleFontSize":20,"titlePadding":7}},
             "y":{"field":"r","type":"quantitative","scale":{"domain":[-180,5400],"nice":false,"zero":false},"axis":{"orient":"left","values":[0,1000,2000,3000,4000,5000],"format":"d","labelExpr":"datum.value % 2000 == 0 ? datum.label : ''","labelPadding":9,"title":null}},
             "detail":{"field":"c"}}},
           {"data":{"values":[{"t":358.8,"r":6251,"label":"CTX A4"}]},"mark":{"type":"text","font":"Liberation Sans","fontSize":16,"align":"right","baseline":"middle","color":"#000000"},
            "encoding":{
             "x":{"field":"t","type":"quantitative","scale":{"domain":[-160,400],"nice":false,"zero":false},"axis":{"orient":"top","values":[-100,0,100,200,300,400],"labels":false,"title":null}},
             "y":{"field":"r","type":"quantitative","scale":{"domain":[-180,5400],"nice":false,"zero":false},"axis":{"orient":"right","values":[0,1000,2000,3000,4000,5000],"labels":false,"title":null}},
             "text":{"field":"label"}}}
          ],
          "resolve":{"axis":{"x":"independent","y":"independent"}}
         }
        ],
        "bounds":"flush","spacing":43
       }
      ],
      "bounds":"flush","spacing":36
     }
    ],
    "bounds":"flush","spacing":0
   }
  ],
  "bounds":"flush","spacing":367
 }
]
}
